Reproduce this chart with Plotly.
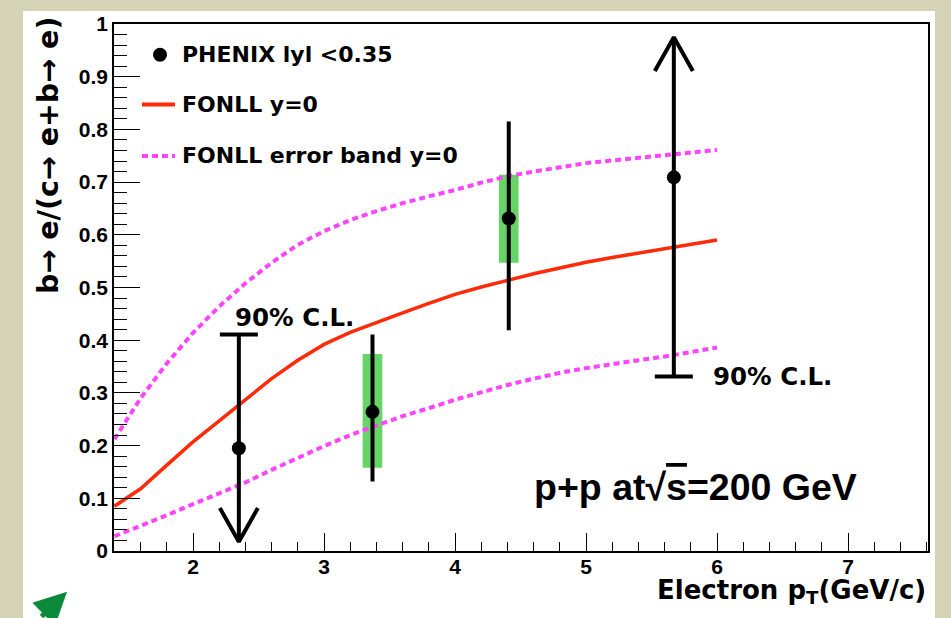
import plotly.graph_objects as go

# ---------------- data ----------------
fonll_pt = [1.4, 1.6, 1.8, 2.0, 2.2, 2.4, 2.6, 2.8, 3.0, 3.2, 3.4, 3.6, 3.8,
            4.0, 4.2, 4.4, 4.6, 4.8, 5.0, 5.2, 5.4, 5.6, 5.8, 6.0]
fonll_central = [0.085, 0.118, 0.163, 0.207, 0.247, 0.287, 0.327, 0.362, 0.392,
                 0.415, 0.434, 0.452, 0.470, 0.487, 0.501, 0.514, 0.526, 0.537,
                 0.548, 0.557, 0.565, 0.573, 0.581, 0.590]
fonll_upper = [0.212, 0.290, 0.356, 0.414, 0.464, 0.508, 0.547, 0.581, 0.607,
               0.628, 0.645, 0.660, 0.673, 0.685, 0.699, 0.711, 0.720, 0.728,
               0.736, 0.741, 0.746, 0.751, 0.756, 0.761]
fonll_lower = [0.028, 0.047, 0.068, 0.089, 0.109, 0.130, 0.154, 0.177, 0.199,
               0.220, 0.239, 0.256, 0.271, 0.287, 0.301, 0.315, 0.327, 0.338,
               0.347, 0.355, 0.362, 0.369, 0.377, 0.386]

phenix_pt = [2.35, 3.37, 4.41, 5.67]
phenix_ratio = [0.195, 0.264, 0.631, 0.709]

# measured points (stat error bars and systematic boxes)
meas_pt = [3.37, 4.41]
stat_low = [0.132, 0.419]
stat_high = [0.411, 0.815]
sys_low = [0.158, 0.547]
sys_high = [0.374, 0.714]

# 90% C.L. limits: value of the limit and where the arrow ends
cl_pt = [2.35, 5.67]
cl_limit = [0.411, 0.331]
cl_arrow_end = [0.0175, 0.975]

x_ticks = [2, 3, 4, 5, 6, 7]
legend_labels = ["PHENIX lyl <0.35", "FONLL y=0", "FONLL error band y=0"]

# ---------------- style ----------------
RED = "#ff2a0a"
MAGENTA = "#ff44ff"
GREEN = "#66d466"
BEIGE = "#d5d3b6"
BOX_HW = 0.075     # half width of systematic boxes (data units)
CAP_HW = 0.145     # half width of C.L. caps / arrow wings
HEAD_L = 0.064     # arrow head length

fig = go.Figure()

# systematic boxes
for x, lo, hi in zip(meas_pt, sys_low, sys_high):
    fig.add_trace(go.Scatter(
        x=[x - BOX_HW, x + BOX_HW, x + BOX_HW, x - BOX_HW, x - BOX_HW],
        y=[lo, lo, hi, hi, lo], fill="toself", fillcolor=GREEN,
        mode="lines", line=dict(width=0, color=GREEN),
        showlegend=False, hoverinfo="skip"))

# FONLL curves
fig.add_trace(go.Scatter(x=fonll_pt, y=fonll_upper, mode="lines",
                         line=dict(color=MAGENTA, width=4, dash="6px,4px"),
                         showlegend=False))
fig.add_trace(go.Scatter(x=fonll_pt, y=fonll_lower, mode="lines",
                         line=dict(color=MAGENTA, width=4, dash="6px,4px"),
                         showlegend=False))
fig.add_trace(go.Scatter(x=fonll_pt, y=fonll_central, mode="lines",
                         line=dict(color=RED, width=3.5), showlegend=False))

# stat error bars
ex, ey = [], []
for x, lo, hi in zip(meas_pt, stat_low, stat_high):
    ex += [x, x, None]
    ey += [lo, hi, None]
fig.add_trace(go.Scatter(x=ex, y=ey, mode="lines",
                         line=dict(color="black", width=4), showlegend=False))

# C.L. limits with open arrows
ax_, ay_ = [], []
for x, lim, end in zip(cl_pt, cl_limit, cl_arrow_end):
    d = 1 if lim > end else -1
    ax_ += [x, x, None, x - CAP_HW, x + CAP_HW, None,
            x - CAP_HW, x, x + CAP_HW, None]
    ay_ += [lim, end, None, lim, lim, None,
            end + d * HEAD_L, end, end + d * HEAD_L, None]
fig.add_trace(go.Scatter(x=ax_, y=ay_, mode="lines",
                         line=dict(color="black", width=4), showlegend=False))

# data points
fig.add_trace(go.Scatter(x=phenix_pt, y=phenix_ratio, mode="markers",
                         marker=dict(color="black", size=14, symbol="circle"),
                         showlegend=False))

# ---------------- layout ----------------
W, H = 951, 618
L, R, T, B = 114, 23, 20, 67
pw, ph = W - L - R, H - T - B


def px(x):
    return (x - L) / pw


def py(y):
    return (H - B - y) / ph


shapes = [
    dict(type="rect", xref="paper", yref="paper", x0=px(23), x1=px(935),
         y0=py(625), y1=py(7), fillcolor="white", line=dict(width=0), layer="below"),
    # legend keys
    dict(type="circle", xref="paper", yref="paper", x0=px(153), x1=px(167),
         y0=py(58), y1=py(44), fillcolor="black", line=dict(width=0)),
    dict(type="line", xref="paper", yref="paper", x0=px(142), x1=px(175),
         y0=py(101), y1=py(101), line=dict(color=RED, width=4)),
    dict(type="line", xref="paper", yref="paper", x0=px(142), x1=px(175),
         y0=py(153), y1=py(153), line=dict(color=MAGENTA, width=4, dash="6px,4px")),
]

TXT = "DejaVu Sans"
annotations = []
for lab, yy in zip(legend_labels, [51, 101, 153]):
    annotations.append(dict(text=lab, xref="paper", yref="paper", x=px(180), y=py(yy),
                            xanchor="left", yanchor="middle", showarrow=False,
                            font=dict(family=TXT, size=22, color="black", weight="bold")))
annotations += [
    dict(text="90% C.L.", x=cl_pt[0] - 0.045, y=0.443, xanchor="left", yanchor="middle",
         showarrow=False, font=dict(family=TXT, size=24.5, color="black", weight="bold")),
    dict(text="90% C.L.", x=cl_pt[1] + 0.28, y=cl_limit[1], xanchor="left", yanchor="middle",
         showarrow=False, font=dict(family=TXT, size=24.5, color="black", weight="bold")),
    dict(text="p+p at\u221a<span style=\"text-decoration:overline\">s</span>=200 GeV",
         x=5.835, y=0.121, xanchor="center", yanchor="middle", showarrow=False,
         font=dict(family="Liberation Sans", size=37.5, color="black", weight="bold")),
    dict(text="Electron p<sub>T</sub>(GeV/c)", xref="paper", yref="paper",
         x=1.0, y=py(592), xanchor="right", yanchor="middle", showarrow=False,
         font=dict(family=TXT, size=26, color="black", weight="bold")),
    dict(text="b\u2192 e/(c\u2192 e+b\u2192 e)", xref="paper", yref="paper",
         x=px(49), y=py(153), xanchor="center", yanchor="middle", textangle=-90,
         showarrow=False, font=dict(family=TXT, size=28.5, color="black", weight="bold")),
    # green pointer arrow
    dict(text="", xref="paper", yref="paper", x=px(67), y=py(592),
         ax=-27, ay=32, showarrow=True, arrowhead=2, arrowsize=1.3,
         arrowwidth=5, arrowcolor="#0a8a3a"),
]

tickfont = dict(family="Liberation Sans", size=21, color="black", weight="bold")
fig.update_layout(
    width=W, height=H, margin=dict(l=L, r=R, t=T, b=B),
    paper_bgcolor=BEIGE, plot_bgcolor="white",
    shapes=shapes, annotations=annotations, showlegend=False,
    xaxis=dict(range=[1.397, 7.61], tickvals=x_ticks, ticks="inside", ticklen=18,
               tickwidth=1, tickcolor="black", showgrid=False, zeroline=False,
               showline=True, linecolor="black", linewidth=1.5, mirror=True,
               tickfont=tickfont, ticklabelstandoff=-4,
               minor=dict(dtick=0.2, tick0=0, ticks="inside", ticklen=9,
                          tickcolor="black", tickwidth=1, showgrid=False)),
    yaxis=dict(range=[0, 1], dtick=0.1, tick0=0, ticks="inside", ticklen=26,
               tickwidth=1, tickcolor="black", showgrid=False, zeroline=False,
               showline=True, linecolor="black", linewidth=1.5, mirror=True,
               tickfont=tickfont,
               minor=dict(dtick=0.02, tick0=0, ticks="inside", ticklen=13,
                          tickcolor="black", tickwidth=1, showgrid=False)),
)

fig.write_html("out.html", config={"displayModeBar": False},
               post_script="document.body.style.margin='0';document.body.style.overflow='hidden';")
